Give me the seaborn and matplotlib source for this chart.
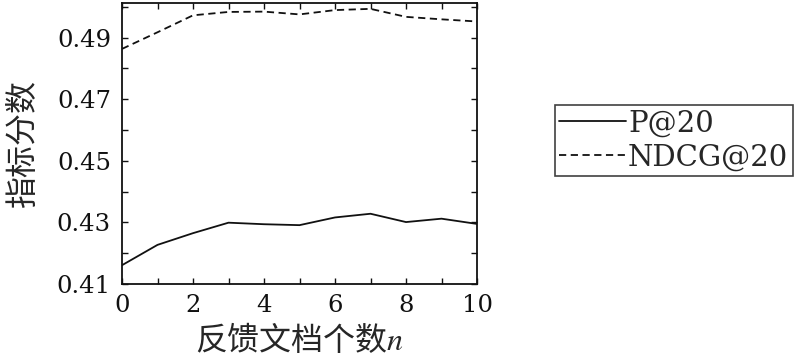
import matplotlib
matplotlib.use("Agg")
import matplotlib.pyplot as plt
import seaborn as sns
import pandas as pd
from matplotlib.ticker import MultipleLocator, FormatStrFormatter

# values
n_docs = [0, 1, 2, 3, 4, 5, 6, 7, 8, 9, 10]
p_at_20 = [0.4161, 0.4227, 0.4265, 0.4299, 0.4294, 0.4291, 0.4316, 0.4328, 0.4301, 0.4312, 0.4295]
ndcg_at_20 = [0.4863, 0.4917, 0.4972, 0.4983, 0.4984, 0.4975, 0.4989, 0.4993, 0.4967, 0.4959, 0.4952]
series_names = ["P@20", "NDCG@20"]
y_ticks = [0.41, 0.43, 0.45, 0.47, 0.49]

df = pd.concat([
  pd.DataFrame({"n": n_docs, "score": p_at_20, "metric": series_names[0]}),
  pd.DataFrame({"n": n_docs, "score": ndcg_at_20, "metric": series_names[1]}),
])

sns.set_style("ticks")
plt.rcParams["font.family"] = ["DejaVu Serif", "Noto Sans CJK SC"]
plt.rcParams["mathtext.fontset"] = "stix"

fig = plt.figure(figsize=(8.09, 3.59), dpi=100)
ax = fig.add_axes([122 / 809, 1 - 284 / 359, 355 / 809, 281 / 359])

sns.lineplot(data=df, x="n", y="score", hue="metric", style="metric",
             palette=["#111111", "#111111"], dashes=[(None, None), (4, 2.5)],
             linewidth=1.3, ax=ax)

ax.set_xlim(0, 10)
ax.set_ylim(0.41, 0.5012)
ax.xaxis.set_major_locator(MultipleLocator(2))
ax.xaxis.set_minor_locator(MultipleLocator(1))
ax.set_yticks(y_ticks)
ax.yaxis.set_minor_locator(MultipleLocator(0.01))
ax.yaxis.set_major_formatter(FormatStrFormatter("%.2f"))
ax.tick_params(which="both", direction="in", top=True, right=True, length=4,
               width=1, labelsize=17.5, colors="#111111")
ax.tick_params(axis="y", pad=8)
ax.tick_params(axis="x", pad=7)
for s in ax.spines.values():
  s.set_linewidth(1.3)
  s.set_color("#111111")

ax.set_xlabel("反馈文档个数$n$", fontsize=23, family=["Noto Sans CJK SC"], labelpad=4)
ax.set_ylabel("指标分数", fontsize=23, family=["Noto Sans CJK SC"], labelpad=12)

leg = ax.legend(loc="upper left", bbox_to_anchor=(555 / 809, 1 - 105 / 359),
                bbox_transform=fig.transFigure, frameon=True, fancybox=False,
                fontsize=21, handlelength=2.3, handletextpad=0.05,
                borderpad=0.15, labelspacing=0.2, borderaxespad=0)
leg.get_frame().set_edgecolor("#111111")
leg.get_frame().set_linewidth(1.2)

fig.savefig("out.png", dpi=100)
